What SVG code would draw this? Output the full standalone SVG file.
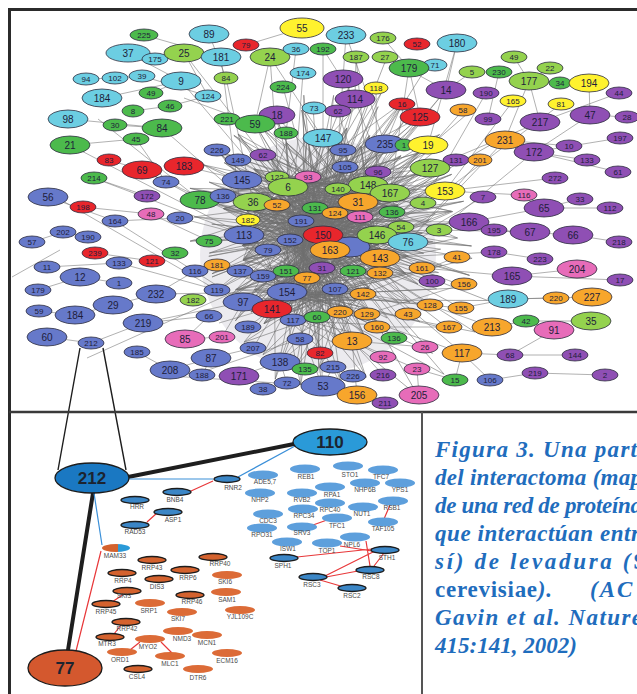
<svg xmlns="http://www.w3.org/2000/svg" xmlns:xlink="http://www.w3.org/1999/xlink" width="637" height="694" viewBox="0 0 637 694">
<style>
text{font-family:"Liberation Sans",Arial,sans-serif}
#caption text{font-family:"Liberation Serif","Times New Roman",serif;font-weight:bold;font-style:italic;font-size:23px;fill:#1f6dbd}
#nodes ellipse{stroke:#2e2e40;stroke-width:.8}
#nodes text{font-size:8px;fill:#1e1e3a;text-anchor:middle}
#nodes .B text{font-size:10px}
.c ellipse{fill:#6ccee2}
.g ellipse{fill:#4cba4c}
.l ellipse{fill:#94d24e}
.r ellipse{fill:#e8262c}
.y ellipse{fill:#fff22e}
.o ellipse{fill:#f7a62c}
.p ellipse{fill:#8f4fb4}
.s ellipse{fill:#6679ca}
.k ellipse{fill:#e76cb9}
.e{fill:none;stroke:#707070;stroke-width:.55}
.em{fill:none;stroke:#8d7a9e;stroke-width:.5}
.ib ellipse{fill:#3b86c6;stroke:#1c1c1c;stroke-width:1.3}
.il ellipse{fill:#5d9fdc}
.io ellipse{fill:#d4622e;stroke:#1c1c1c;stroke-width:1.3}
.iq ellipse{fill:#dc6b37}
#inset text{font-size:6.5px;fill:#4a4a4a;text-anchor:middle}
#inset .big text{fill:#1c2430;font-size:17px;font-weight:bold}
.red{stroke:#e8383a;stroke-width:1.2;fill:none}
.blu{stroke:#3a8fd8;stroke-width:1.2;fill:none}
.thick{stroke:#1e1e1e;stroke-width:4;fill:none;stroke-linecap:round}
</style>
<defs>
<linearGradient id="half" x1="0" x2="1" y1="0" y2="0"><stop offset="0.58" stop-color="#d4622e"/><stop offset="0.58" stop-color="#2a9ad8"/></linearGradient>
</defs>
<rect width="637" height="694" fill="#fff"/>
<ellipse cx="318" cy="255" rx="118" ry="118" fill="#ecebef"/>

<g id="connectors">
<path id="mesh" class="e" d="M244 235L323 235M244 235L408 242M244 235L380 258M244 235L390 193M244 235L287 292M244 235L335 289M244 235L323 138M244 235L368 185M290 240L377 235M290 240L380 258M290 240L288 187M290 240L368 185M290 240L363 294M290 240L352 341M290 240L385 144M323 235L288 187M323 235L242 180M323 235L390 193M323 235L287 292M323 235L243 302M323 235L280 362M323 235L430 168M377 235L242 180M377 235L253 202M377 235L287 292M377 235L243 302M377 235L272 309M377 235L323 138M408 242L288 187M408 242L253 202M408 242L272 309M408 242L335 289M408 242L300 221M330 249L242 180M330 249L368 185M330 249L390 193M330 249L272 309M330 249L385 144M330 249L255 124M380 258L242 180M380 258L300 221M380 258L243 302M380 258L323 138M288 187L368 185M288 187L390 193M288 187L287 292M288 187L335 289M288 187L363 294M242 180L358 202M242 180L300 221M242 180L335 289M242 180L368 185M368 185L253 202M368 185L287 292M368 185L272 309M390 193L253 202M390 193L300 221M390 193L287 292M358 202L300 221M358 202L287 292M358 202L243 302M253 202L335 289M253 202L363 294M300 221L287 292M300 221L363 294M300 221L352 341M287 292L363 294M287 292L430 168M243 302L335 289M243 302L363 294M272 309L335 289M272 309L363 294M335 289L352 341M363 294L280 362M352 341L272 309M280 362L335 289M430 168L288 187M430 168L300 221M445 191L242 180M445 191L300 221M445 191L287 292M323 138L300 221M323 138L287 292M323 138L358 202M385 144L244 235M385 144L300 221M385 144L287 292M420 117L288 187M420 117L300 221M420 117L323 235M255 124L323 235M255 124L358 202M255 124L300 221M217 150L358 202M217 150L377 235M217 150L380 258M469 222L300 221M469 222L323 235M469 222L244 235M422 268L244 235M422 268L288 187M422 268L300 221M430 305L323 235M430 305L287 292M461 308L287 292M461 308L300 221M317 317L288 187M317 317L368 185M317 317L323 235M200 200L323 235M200 200L358 202M200 200L300 221M209 241L323 235M209 241L377 235M217 290L323 235M217 290L358 202M217 290L300 221M377 327L244 235M377 327L288 187M322 386L323 235M322 386L300 221M322 386L287 292M462 353L323 235M462 353L287 292M343 150L323 235M343 150L287 292M345 167L244 235M345 167L287 292M402 104L323 235M402 104L300 221M355 99L287 292M355 99L323 235M446 90L323 235M338 189L244 235M338 189L287 292M423 203L244 235M423 203L287 292M439 230L244 235M439 230L243 302"/>
<use xlink:href="#mesh" href="#mesh" transform="rotate(9 318 250)" class="em"/>
<use xlink:href="#mesh" href="#mesh" transform="rotate(-8 318 250)"/>
<use xlink:href="#mesh" href="#mesh" transform="rotate(20 318 250)" class="em"/>
<use xlink:href="#mesh" href="#mesh" transform="rotate(-19 318 250)"/>
<path class="e" d="M144 35L221 57M209 34L226 78M302 28L246 45M128 53L181 81M184 53L208 96M184 53L288 187M221 57L244 235M270 57L255 124M270 57L287 292M270 57L323 138M296 49L286 133M323 49L323 138M323 49L355 99M346 35L343 79M346 35L385 144M383 38L409 68M356 57L355 99M356 57L368 185M385 57L446 90M409 68L420 117M409 68L390 193M457 43L446 90M457 43L428 145M472 72L446 90M499 72L488 119M529 81L505 140M529 81L540 122M514 57L529 81M550 68L529 81M589 83L590 115M619 93L540 122M590 115L534 152M627 117L590 115M620 138L534 152M569 146L505 140M587 160L534 152M618 172L534 152M555 178L445 191M524 195L445 191M580 199L544 208M610 208L544 208M544 208L469 222M619 242L573 235M573 235L494 230M530 232L439 230M620 280L512 276M577 269L512 276M540 259L494 252M592 297L508 299M556 298L508 299M508 299L461 308M591 321L526 321M526 321L492 327M554 330L526 321M554 330L510 355M575 355L510 355M605 375L535 373M535 373L490 380M510 355L462 353M490 380L462 353M455 380L462 353M455 380L417 369M419 395L417 369M385 403L357 395M357 395L352 341M86 79L115 78M115 78L142 76M142 76L208 96M102 98L181 81M68 119L162 128M70 145L136 139M136 139L166 182M115 125L162 128M133 111L170 106M170 106L208 96M151 93L181 81M109 160L142 170M142 170L166 182M184 166L242 180M94 178L147 196M48 197L115 221M83 207L151 214M63 232L88 237M32 242L63 232M95 253L152 261M152 261L175 253M47 267L119 263M80 277L119 283M38 290L80 277M39 311L75 315M47 337L91 343M91 343L143 323M75 315L113 305M113 305L156 294M156 294L195 271M143 323L209 316M137 352L170 370M170 370L211 358M211 358L253 348M239 376L280 362M263 389L287 383M287 383L280 362M323 386L333 367M185 339L222 337M185 339L209 316M162 128L290 240M181 81L300 221M70 145L244 235M142 170L290 240M156 294L287 292M143 323L243 302M226 78L253 202M303 73L290 240M283 87L323 235M343 79L330 249M376 88L377 235M402 104L368 185M463 110L390 193M486 93L423 203M513 101L445 191M561 104L445 191M540 122L430 168M505 140L408 242M534 152L439 230M456 160L377 235M480 160L408 242M483 197L380 258M494 252L380 258M512 276L422 268M457 257L363 294M464 284L367 314M432 281L330 249M430 305L335 289M449 327L377 327M492 327L430 305M425 347L352 341M383 357L352 341M417 369L352 341M353 376L323 386M383 375L352 341M305 369L280 362M253 348L287 292M248 327L272 309M222 337L243 302M202 375L211 358M119 263L217 290M115 221L180 218M180 218L244 235M151 214L209 241M166 182L200 200M217 150L242 180M238 160L288 187M263 155L323 235M227 119L255 124M286 133L290 240M313 108L323 235M338 111L377 235M355 99L408 242M420 117L300 221M446 90L368 185M385 144L288 187M428 145L330 249M345 167L244 235M94 178L244 235M56 197L217 290M12 277L60 250M98 119L200 200M184 98L255 124M115 221L243 302M232 294L330 249M219 323L335 289M87 358L330 249M208 370L300 339M171 376L322 386"/>
<path stroke="#1e1e1e" stroke-width="1.4" fill="none" d="M80 348L58 470M103 348L126 470"/>
<path class="thick" d="M128 477L294 444M93 493L68 650"/>
<path class="blu" d="M129 479L213 479M238 477L295 446M94 493L102 545"/>
<path class="red" d="M101 551L76 651M213 481L191 491M157 513L147 522M124 594L112 602M121 625L114 634M140 642L130 650M161 642L172 653M313 525L327 520M390 505L384 519M297 557L372 549M340 546L372 551M366 541L370 566M384 553L374 566M375 551L325 576M358 571L326 577M320 580L344 587"/>
</g>

<g id="frame" fill="none">
<path d="M8 9.5H637M9.5 8V694" stroke="#2b2b2b" stroke-width="3"/>
<path d="M9 412H637" stroke="#3a3a3a" stroke-width="2.5"/>
<path d="M422 412V694" stroke="#555" stroke-width="2"/>
</g>

<g id="nodes">
<g id="n225" class="g"><ellipse cx="144" cy="35" rx="14" ry="6"/><text x="144" y="38">225</text></g>
<g id="n89" class="c B"><ellipse cx="209" cy="34" rx="20" ry="9"/><text x="209" y="37.5">89</text></g>
<g id="n55" class="y B"><ellipse cx="302" cy="28" rx="22" ry="10"/><text x="302" y="31.5">55</text></g>
<g id="n79" class="r"><ellipse cx="246" cy="45" rx="13" ry="6"/><text x="246" y="48">79</text></g>
<g id="n37" class="c B"><ellipse cx="128" cy="53" rx="22" ry="9"/><text x="128" y="56.5">37</text></g>
<g id="n175" class="c"><ellipse cx="155" cy="59" rx="13" ry="6"/><text x="155" y="62">175</text></g>
<g id="n25" class="l B"><ellipse cx="184" cy="53" rx="20" ry="9"/><text x="184" y="56.5">25</text></g>
<g id="n181" class="c B"><ellipse cx="221" cy="57" rx="20" ry="9"/><text x="221" y="60.5">181</text></g>
<g id="n24" class="l B"><ellipse cx="270" cy="57" rx="20" ry="9"/><text x="270" y="60.5">24</text></g>
<g id="n36" class="c"><ellipse cx="296" cy="49" rx="13" ry="6"/><text x="296" y="52">36</text></g>
<g id="n192" class="g"><ellipse cx="323" cy="49" rx="13" ry="6"/><text x="323" y="52">192</text></g>
<g id="n233" class="c B"><ellipse cx="346" cy="35" rx="20" ry="9"/><text x="346" y="38.5">233</text></g>
<g id="n176" class="l"><ellipse cx="383" cy="38" rx="13" ry="6"/><text x="383" y="41">176</text></g>
<g id="n52" class="r"><ellipse cx="417" cy="44" rx="13" ry="6"/><text x="417" y="47">52</text></g>
<g id="n180" class="c B"><ellipse cx="457" cy="43" rx="20" ry="9"/><text x="457" y="46.5">180</text></g>
<g id="n187" class="l"><ellipse cx="356" cy="57" rx="13" ry="6"/><text x="356" y="60">187</text></g>
<g id="n27" class="l"><ellipse cx="385" cy="57" rx="13" ry="6"/><text x="385" y="60">27</text></g>
<g id="n71" class="c"><ellipse cx="435" cy="65" rx="12" ry="6"/><text x="435" y="68">71</text></g>
<g id="n179" class="g B"><ellipse cx="409" cy="68" rx="20" ry="9"/><text x="409" y="71.5">179</text></g>
<g id="n49" class="l"><ellipse cx="514" cy="57" rx="13" ry="6"/><text x="514" y="60">49</text></g>
<g id="n5" class="l"><ellipse cx="472" cy="72" rx="13" ry="6"/><text x="472" y="75">5</text></g>
<g id="n230" class="g"><ellipse cx="499" cy="72" rx="13" ry="6"/><text x="499" y="75">230</text></g>
<g id="n22" class="l"><ellipse cx="550" cy="68" rx="13" ry="6"/><text x="550" y="71">22</text></g>
<g id="n177" class="l B"><ellipse cx="529" cy="81" rx="20" ry="9"/><text x="529" y="84.5">177</text></g>
<g id="n34" class="g"><ellipse cx="560" cy="83" rx="11" ry="6"/><text x="560" y="86">34</text></g>
<g id="n194" class="y B"><ellipse cx="589" cy="83" rx="20" ry="9"/><text x="589" y="86.5">194</text></g>
<g id="n44" class="p"><ellipse cx="619" cy="93" rx="13" ry="6"/><text x="619" y="96">44</text></g>
<g id="n94" class="c"><ellipse cx="86" cy="79" rx="13" ry="6"/><text x="86" y="82">94</text></g>
<g id="n102" class="c"><ellipse cx="115" cy="78" rx="13" ry="6"/><text x="115" y="81">102</text></g>
<g id="n39" class="c"><ellipse cx="142" cy="76" rx="13" ry="6"/><text x="142" y="79">39</text></g>
<g id="n9" class="c B"><ellipse cx="181" cy="81" rx="20" ry="9"/><text x="181" y="84.5">9</text></g>
<g id="n84" class="l"><ellipse cx="226" cy="78" rx="12" ry="6"/><text x="226" y="81">84</text></g>
<g id="n124" class="c"><ellipse cx="208" cy="96" rx="13" ry="6"/><text x="208" y="99">124</text></g>
<g id="n174" class="c"><ellipse cx="303" cy="73" rx="13" ry="6"/><text x="303" y="76">174</text></g>
<g id="n224" class="g"><ellipse cx="283" cy="87" rx="13" ry="6"/><text x="283" y="90">224</text></g>
<g id="n120" class="p B"><ellipse cx="343" cy="79" rx="20" ry="9"/><text x="343" y="82.5">120</text></g>
<g id="n118" class="y"><ellipse cx="376" cy="88" rx="12" ry="6"/><text x="376" y="91">118</text></g>
<g id="n114" class="p B"><ellipse cx="355" cy="99" rx="20" ry="9"/><text x="355" y="102.5">114</text></g>
<g id="n14" class="p B"><ellipse cx="446" cy="90" rx="20" ry="9"/><text x="446" y="93.5">14</text></g>
<g id="n190" class="p"><ellipse cx="486" cy="93" rx="13" ry="6"/><text x="486" y="96">190</text></g>
<g id="n165" class="y"><ellipse cx="513" cy="101" rx="13" ry="6"/><text x="513" y="104">165</text></g>
<g id="n81" class="y"><ellipse cx="561" cy="104" rx="13" ry="6"/><text x="561" y="107">81</text></g>
<g id="n47" class="p B"><ellipse cx="590" cy="115" rx="20" ry="9"/><text x="590" y="118.5">47</text></g>
<g id="n28" class="p"><ellipse cx="627" cy="117" rx="12" ry="6"/><text x="627" y="120">28</text></g>
<g id="n184" class="c B"><ellipse cx="102" cy="98" rx="20" ry="9"/><text x="102" y="101.5">184</text></g>
<g id="n49b" class="g"><ellipse cx="151" cy="93" rx="12" ry="6"/><text x="151" y="96">49</text></g>
<g id="n46" class="g"><ellipse cx="170" cy="106" rx="12" ry="6"/><text x="170" y="109">46</text></g>
<g id="n8" class="g"><ellipse cx="133" cy="111" rx="11" ry="6"/><text x="133" y="114">8</text></g>
<g id="n98" class="c B"><ellipse cx="68" cy="119" rx="20" ry="9"/><text x="68" y="122.5">98</text></g>
<g id="n30" class="g"><ellipse cx="115" cy="125" rx="12" ry="6"/><text x="115" y="128">30</text></g>
<g id="n84b" class="g B"><ellipse cx="162" cy="128" rx="20" ry="9"/><text x="162" y="131.5">84</text></g>
<g id="n221" class="g"><ellipse cx="227" cy="119" rx="13" ry="6"/><text x="227" y="122">221</text></g>
<g id="n18" class="p B"><ellipse cx="277" cy="115" rx="18" ry="9"/><text x="277" y="118.5">18</text></g>
<g id="n59" class="g B"><ellipse cx="255" cy="124" rx="20" ry="9"/><text x="255" y="127.5">59</text></g>
<g id="n188" class="g"><ellipse cx="286" cy="133" rx="12" ry="6"/><text x="286" y="136">188</text></g>
<g id="n73" class="c"><ellipse cx="314" cy="108" rx="12" ry="6"/><text x="314" y="111">73</text></g>
<g id="n62" class="p"><ellipse cx="338" cy="111" rx="13" ry="6"/><text x="338" y="114">62</text></g>
<g id="n16" class="r"><ellipse cx="402" cy="104" rx="13" ry="6"/><text x="402" y="107">16</text></g>
<g id="n125" class="r B"><ellipse cx="420" cy="117" rx="20" ry="9"/><text x="420" y="120.5">125</text></g>
<g id="n58" class="o"><ellipse cx="463" cy="110" rx="13" ry="6"/><text x="463" y="113">58</text></g>
<g id="n99" class="p"><ellipse cx="488" cy="119" rx="13" ry="6"/><text x="488" y="122">99</text></g>
<g id="n217" class="p B"><ellipse cx="540" cy="122" rx="20" ry="9"/><text x="540" y="125.5">217</text></g>
<g id="n197" class="p"><ellipse cx="620" cy="138" rx="13" ry="6"/><text x="620" y="141">197</text></g>
<g id="n45" class="g"><ellipse cx="136" cy="139" rx="13" ry="6"/><text x="136" y="142">45</text></g>
<g id="n21" class="g B"><ellipse cx="70" cy="145" rx="20" ry="9"/><text x="70" y="148.5">21</text></g>
<g id="n226" class="s"><ellipse cx="217" cy="150" rx="13" ry="6"/><text x="217" y="153">226</text></g>
<g id="n149" class="s"><ellipse cx="238" cy="160" rx="13" ry="6"/><text x="238" y="163">149</text></g>
<g id="n62b" class="p"><ellipse cx="263" cy="155" rx="13" ry="6"/><text x="263" y="158">62</text></g>
<g id="n147" class="c B"><ellipse cx="323" cy="138" rx="20" ry="9"/><text x="323" y="141.5">147</text></g>
<g id="n95" class="s"><ellipse cx="343" cy="150" rx="13" ry="6"/><text x="343" y="153">95</text></g>
<g id="n235" class="s B"><ellipse cx="385" cy="144" rx="20" ry="9"/><text x="385" y="147.5">235</text></g>
<g id="n7g" class="g"><ellipse cx="404" cy="145" rx="9" ry="6"/><text x="404" y="148">1</text></g>
<g id="n19" class="y B"><ellipse cx="428" cy="145" rx="20" ry="9"/><text x="428" y="148.5">19</text></g>
<g id="n231" class="o B"><ellipse cx="505" cy="140" rx="20" ry="9"/><text x="505" y="143.5">231</text></g>
<g id="n172" class="p B"><ellipse cx="534" cy="152" rx="20" ry="9"/><text x="534" y="155.5">172</text></g>
<g id="n10" class="p"><ellipse cx="569" cy="146" rx="13" ry="6"/><text x="569" y="149">10</text></g>
<g id="n83" class="r"><ellipse cx="109" cy="160" rx="12" ry="6"/><text x="109" y="163">83</text></g>
<g id="n69" class="r B"><ellipse cx="142" cy="170" rx="20" ry="9"/><text x="142" y="173.5">69</text></g>
<g id="n183" class="r B"><ellipse cx="184" cy="166" rx="20" ry="9"/><text x="184" y="169.5">183</text></g>
<g id="n105" class="s"><ellipse cx="345" cy="167" rx="13" ry="6"/><text x="345" y="170">105</text></g>
<g id="n131" class="p"><ellipse cx="456" cy="160" rx="13" ry="6"/><text x="456" y="163">131</text></g>
<g id="n201" class="o"><ellipse cx="480" cy="160" rx="12" ry="6"/><text x="480" y="163">201</text></g>
<g id="n127" class="l B"><ellipse cx="430" cy="168" rx="20" ry="9"/><text x="430" y="171.5">127</text></g>
<g id="n133" class="p"><ellipse cx="587" cy="160" rx="13" ry="6"/><text x="587" y="163">133</text></g>
<g id="n61" class="p"><ellipse cx="618" cy="172" rx="13" ry="6"/><text x="618" y="175">61</text></g>
<g id="n214" class="g"><ellipse cx="94" cy="178" rx="13" ry="6"/><text x="94" y="181">214</text></g>
<g id="n74" class="s"><ellipse cx="166" cy="182" rx="13" ry="6"/><text x="166" y="185">74</text></g>
<g id="n145" class="s B"><ellipse cx="242" cy="180" rx="20" ry="9"/><text x="242" y="183.5">145</text></g>
<g id="n122" class="l"><ellipse cx="277" cy="177" rx="12" ry="6"/><text x="277" y="180">122</text></g>
<g id="n93" class="k"><ellipse cx="308" cy="177" rx="13" ry="6"/><text x="308" y="180">93</text></g>
<g id="n6" class="l B"><ellipse cx="288" cy="187" rx="20" ry="9"/><text x="288" y="190.5">6</text></g>
<g id="n96" class="p"><ellipse cx="378" cy="172" rx="13" ry="6"/><text x="378" y="175">96</text></g>
<g id="n272" class="p"><ellipse cx="555" cy="178" rx="13" ry="6"/><text x="555" y="181">272</text></g>
<g id="n148" class="l B"><ellipse cx="368" cy="185" rx="20" ry="9"/><text x="368" y="188.5">148</text></g>
<g id="n140" class="l"><ellipse cx="338" cy="189" rx="13" ry="6"/><text x="338" y="192">140</text></g>
<g id="n167" class="l B"><ellipse cx="390" cy="193" rx="20" ry="9"/><text x="390" y="196.5">167</text></g>
<g id="n153" class="y B"><ellipse cx="445" cy="191" rx="20" ry="9"/><text x="445" y="194.5">153</text></g>
<g id="n7" class="p"><ellipse cx="483" cy="197" rx="13" ry="6"/><text x="483" y="200">7</text></g>
<g id="n116" class="k"><ellipse cx="524" cy="195" rx="13" ry="6"/><text x="524" y="198">116</text></g>
<g id="n33" class="p"><ellipse cx="580" cy="199" rx="13" ry="6"/><text x="580" y="202">33</text></g>
<g id="n56" class="s B"><ellipse cx="48" cy="197" rx="20" ry="9"/><text x="48" y="200.5">56</text></g>
<g id="n172b" class="p"><ellipse cx="147" cy="196" rx="13" ry="6"/><text x="147" y="199">172</text></g>
<g id="n78" class="g B"><ellipse cx="200" cy="200" rx="20" ry="9"/><text x="200" y="203.5">78</text></g>
<g id="n136" class="s"><ellipse cx="223" cy="196" rx="13" ry="7"/><text x="223" y="199">136</text></g>
<g id="n36b" class="l B"><ellipse cx="253" cy="202" rx="20" ry="9"/><text x="253" y="205.5">36</text></g>
<g id="n52b" class="o"><ellipse cx="277" cy="205" rx="13" ry="6"/><text x="277" y="208">52</text></g>
<g id="n31" class="o B"><ellipse cx="358" cy="202" rx="20" ry="9"/><text x="358" y="205.5">31</text></g>
<g id="n4" class="l"><ellipse cx="423" cy="203" rx="13" ry="6"/><text x="423" y="206">4</text></g>
<g id="n65" class="p B"><ellipse cx="544" cy="208" rx="20" ry="9"/><text x="544" y="211.5">65</text></g>
<g id="n112" class="p"><ellipse cx="610" cy="208" rx="13" ry="6"/><text x="610" y="211">112</text></g>
<g id="n198" class="r"><ellipse cx="83" cy="207" rx="13" ry="6"/><text x="83" y="210">198</text></g>
<g id="n131b" class="g"><ellipse cx="315" cy="208" rx="13" ry="6"/><text x="315" y="211">131</text></g>
<g id="n124b" class="o"><ellipse cx="335" cy="213" rx="13" ry="6"/><text x="335" y="216">124</text></g>
<g id="n111" class="k"><ellipse cx="360" cy="217" rx="13" ry="6"/><text x="360" y="220">111</text></g>
<g id="n136b" class="g"><ellipse cx="392" cy="212" rx="13" ry="6"/><text x="392" y="215">136</text></g>
<g id="n48" class="k"><ellipse cx="151" cy="214" rx="13" ry="6"/><text x="151" y="217">48</text></g>
<g id="n20" class="s"><ellipse cx="180" cy="218" rx="13" ry="6"/><text x="180" y="221">20</text></g>
<g id="n164" class="s"><ellipse cx="115" cy="221" rx="13" ry="6"/><text x="115" y="224">164</text></g>
<g id="n182" class="y"><ellipse cx="248" cy="220" rx="12" ry="6"/><text x="248" y="223">182</text></g>
<g id="n191" class="s"><ellipse cx="301" cy="221" rx="13" ry="6"/><text x="301" y="224">191</text></g>
<g id="n166" class="p B"><ellipse cx="469" cy="222" rx="20" ry="9"/><text x="469" y="225.5">166</text></g>
<g id="n195" class="p"><ellipse cx="494" cy="230" rx="13" ry="6"/><text x="494" y="233">195</text></g>
<g id="n67" class="p B"><ellipse cx="530" cy="232" rx="20" ry="9"/><text x="530" y="235.5">67</text></g>
<g id="n66" class="p B"><ellipse cx="573" cy="235" rx="20" ry="9"/><text x="573" y="238.5">66</text></g>
<g id="n218" class="p"><ellipse cx="619" cy="242" rx="13" ry="6"/><text x="619" y="245">218</text></g>
<g id="n54" class="l"><ellipse cx="401" cy="227" rx="13" ry="6"/><text x="401" y="230">54</text></g>
<g id="n3" class="l"><ellipse cx="439" cy="230" rx="13" ry="6"/><text x="439" y="233">3</text></g>
<g id="n202" class="s"><ellipse cx="63" cy="232" rx="13" ry="6"/><text x="63" y="235">202</text></g>
<g id="n190b" class="s"><ellipse cx="88" cy="237" rx="13" ry="6"/><text x="88" y="240">190</text></g>
<g id="n57" class="s"><ellipse cx="32" cy="242" rx="13" ry="6"/><text x="32" y="245">57</text></g>
<g id="n113" class="s B"><ellipse cx="244" cy="235" rx="20" ry="9"/><text x="244" y="238.5">113</text></g>
<g id="n75" class="g"><ellipse cx="209" cy="241" rx="13" ry="6"/><text x="209" y="244">75</text></g>
<g id="n152" class="s"><ellipse cx="290" cy="240" rx="13" ry="6"/><text x="290" y="243">152</text></g>
<g id="nhid" class="s"><ellipse cx="350" cy="247" rx="20" ry="10"/></g>
<g id="n150" class="r B"><ellipse cx="323" cy="235" rx="20" ry="9"/><text x="323" y="238.5">150</text></g>
<g id="n146" class="l B"><ellipse cx="377" cy="235" rx="20" ry="9"/><text x="377" y="238.5">146</text></g>
<g id="n76" class="c B"><ellipse cx="408" cy="242" rx="20" ry="9"/><text x="408" y="245.5">76</text></g>
<g id="n41" class="o"><ellipse cx="457" cy="257" rx="13" ry="6"/><text x="457" y="260">41</text></g>
<g id="n178" class="p"><ellipse cx="494" cy="252" rx="13" ry="6"/><text x="494" y="255">178</text></g>
<g id="n223" class="p"><ellipse cx="540" cy="259" rx="13" ry="6"/><text x="540" y="262">223</text></g>
<g id="n204" class="k B"><ellipse cx="577" cy="269" rx="20" ry="9"/><text x="577" y="272.5">204</text></g>
<g id="n239" class="r"><ellipse cx="95" cy="253" rx="13" ry="6"/><text x="95" y="256">239</text></g>
<g id="n32" class="g"><ellipse cx="175" cy="253" rx="13" ry="6"/><text x="175" y="256">32</text></g>
<g id="n79b" class="s"><ellipse cx="268" cy="250" rx="13" ry="6"/><text x="268" y="253">79</text></g>
<g id="n163" class="o B"><ellipse cx="330" cy="250" rx="20" ry="9"/><text x="330" y="253.5">163</text></g>
<g id="n143" class="o B"><ellipse cx="380" cy="258" rx="20" ry="9"/><text x="380" y="261.5">143</text></g>
<g id="n161" class="o"><ellipse cx="422" cy="268" rx="13" ry="6"/><text x="422" y="271">161</text></g>
<g id="n165b" class="p B"><ellipse cx="512" cy="276" rx="20" ry="9"/><text x="512" y="279.5">165</text></g>
<g id="n17" class="p"><ellipse cx="620" cy="280" rx="13" ry="6"/><text x="620" y="283">17</text></g>
<g id="n11" class="s"><ellipse cx="47" cy="267" rx="13" ry="6"/><text x="47" y="270">11</text></g>
<g id="n133b" class="s"><ellipse cx="119" cy="263" rx="13" ry="6"/><text x="119" y="266">133</text></g>
<g id="n121" class="r"><ellipse cx="152" cy="261" rx="13" ry="6"/><text x="152" y="264">121</text></g>
<g id="n181b" class="o"><ellipse cx="217" cy="265" rx="13" ry="6"/><text x="217" y="268">181</text></g>
<g id="n116b" class="s"><ellipse cx="195" cy="271" rx="13" ry="6"/><text x="195" y="274">116</text></g>
<g id="n137" class="s"><ellipse cx="240" cy="271" rx="13" ry="6"/><text x="240" y="274">137</text></g>
<g id="n159" class="s"><ellipse cx="263" cy="276" rx="13" ry="6"/><text x="263" y="279">159</text></g>
<g id="n151" class="g"><ellipse cx="286" cy="271" rx="13" ry="6"/><text x="286" y="274">151</text></g>
<g id="n31b" class="p"><ellipse cx="322" cy="268" rx="13" ry="6"/><text x="322" y="271">31</text></g>
<g id="n121b" class="g"><ellipse cx="353" cy="271" rx="13" ry="6"/><text x="353" y="274">121</text></g>
<g id="n132" class="o"><ellipse cx="380" cy="273" rx="13" ry="6"/><text x="380" y="276">132</text></g>
<g id="n77" class="o"><ellipse cx="307" cy="278" rx="13" ry="6"/><text x="307" y="281">77</text></g>
<g id="n100" class="p"><ellipse cx="432" cy="281" rx="13" ry="6"/><text x="432" y="284">100</text></g>
<g id="n156" class="o"><ellipse cx="464" cy="284" rx="13" ry="6"/><text x="464" y="287">156</text></g>
<g id="n12" class="s B"><ellipse cx="80" cy="277" rx="20" ry="9"/><text x="80" y="280.5">12</text></g>
<g id="n1" class="s"><ellipse cx="119" cy="283" rx="13" ry="6"/><text x="119" y="286">1</text></g>
<g id="n179b" class="s"><ellipse cx="38" cy="290" rx="13" ry="6"/><text x="38" y="293">179</text></g>
<g id="n232" class="s B"><ellipse cx="156" cy="294" rx="20" ry="9"/><text x="156" y="297.5">232</text></g>
<g id="n119" class="s"><ellipse cx="217" cy="290" rx="13" ry="6"/><text x="217" y="293">119</text></g>
<g id="n154" class="s B"><ellipse cx="287" cy="292" rx="20" ry="9"/><text x="287" y="295.5">154</text></g>
<g id="n107" class="s"><ellipse cx="335" cy="289" rx="13" ry="6"/><text x="335" y="292">107</text></g>
<g id="n142" class="o"><ellipse cx="363" cy="294" rx="13" ry="6"/><text x="363" y="297">142</text></g>
<g id="n189" class="c B"><ellipse cx="508" cy="299" rx="20" ry="9"/><text x="508" y="302.5">189</text></g>
<g id="n220" class="o"><ellipse cx="556" cy="298" rx="13" ry="6"/><text x="556" y="301">220</text></g>
<g id="n227" class="o B"><ellipse cx="592" cy="297" rx="20" ry="9"/><text x="592" y="300.5">227</text></g>
<g id="n182b" class="l"><ellipse cx="193" cy="300" rx="13" ry="6"/><text x="193" y="303">182</text></g>
<g id="n29" class="s B"><ellipse cx="113" cy="305" rx="20" ry="9"/><text x="113" y="308.5">29</text></g>
<g id="n97" class="s B"><ellipse cx="243" cy="302" rx="20" ry="9"/><text x="243" y="305.5">97</text></g>
<g id="n141" class="r B"><ellipse cx="272" cy="309" rx="20" ry="9"/><text x="272" y="312.5">141</text></g>
<g id="n128" class="o"><ellipse cx="430" cy="305" rx="13" ry="6"/><text x="430" y="308">128</text></g>
<g id="n155" class="o"><ellipse cx="461" cy="308" rx="13" ry="6"/><text x="461" y="311">155</text></g>
<g id="n220b" class="o"><ellipse cx="340" cy="312" rx="13" ry="6"/><text x="340" y="315">220</text></g>
<g id="n129" class="o"><ellipse cx="367" cy="314" rx="13" ry="6"/><text x="367" y="317">129</text></g>
<g id="n43" class="o"><ellipse cx="408" cy="314" rx="13" ry="6"/><text x="408" y="317">43</text></g>
<g id="n59b" class="s"><ellipse cx="39" cy="311" rx="13" ry="6"/><text x="39" y="314">59</text></g>
<g id="n184b" class="s B"><ellipse cx="75" cy="315" rx="20" ry="9"/><text x="75" y="318.5">184</text></g>
<g id="n66b" class="s"><ellipse cx="209" cy="316" rx="13" ry="6"/><text x="209" y="319">66</text></g>
<g id="n117" class="s"><ellipse cx="293" cy="320" rx="13" ry="6"/><text x="293" y="323">117</text></g>
<g id="n60" class="g"><ellipse cx="317" cy="317" rx="13" ry="6"/><text x="317" y="320">60</text></g>
<g id="n42" class="g"><ellipse cx="526" cy="321" rx="13" ry="6"/><text x="526" y="324">42</text></g>
<g id="n35" class="l B"><ellipse cx="591" cy="321" rx="20" ry="9"/><text x="591" y="324.5">35</text></g>
<g id="n219" class="s B"><ellipse cx="143" cy="323" rx="20" ry="9"/><text x="143" y="326.5">219</text></g>
<g id="n189b" class="s"><ellipse cx="248" cy="327" rx="13" ry="6"/><text x="248" y="330">189</text></g>
<g id="n160" class="o"><ellipse cx="377" cy="327" rx="13" ry="6"/><text x="377" y="330">160</text></g>
<g id="n167b" class="o"><ellipse cx="449" cy="327" rx="13" ry="6"/><text x="449" y="330">167</text></g>
<g id="n213" class="o B"><ellipse cx="492" cy="327" rx="20" ry="9"/><text x="492" y="330.5">213</text></g>
<g id="n91" class="k B"><ellipse cx="554" cy="330" rx="20" ry="9"/><text x="554" y="333.5">91</text></g>
<g id="n60b" class="s B"><ellipse cx="47" cy="337" rx="20" ry="9"/><text x="47" y="340.5">60</text></g>
<g id="n212" class="s"><ellipse cx="91" cy="343" rx="13" ry="6"/><text x="91" y="346">212</text></g>
<g id="n85" class="k B"><ellipse cx="185" cy="339" rx="20" ry="9"/><text x="185" y="342.5">85</text></g>
<g id="n201b" class="k"><ellipse cx="222" cy="337" rx="13" ry="6"/><text x="222" y="340">201</text></g>
<g id="n58b" class="s"><ellipse cx="300" cy="339" rx="13" ry="6"/><text x="300" y="342">58</text></g>
<g id="n13" class="o B"><ellipse cx="352" cy="341" rx="20" ry="9"/><text x="352" y="344.5">13</text></g>
<g id="n136c" class="g"><ellipse cx="394" cy="338" rx="13" ry="6"/><text x="394" y="341">136</text></g>
<g id="n26" class="k"><ellipse cx="425" cy="347" rx="13" ry="6"/><text x="425" y="350">26</text></g>
<g id="n207" class="s"><ellipse cx="253" cy="348" rx="13" ry="6"/><text x="253" y="351">207</text></g>
<g id="n185" class="s"><ellipse cx="137" cy="352" rx="13" ry="6"/><text x="137" y="355">185</text></g>
<g id="n82" class="r"><ellipse cx="320" cy="353" rx="13" ry="6"/><text x="320" y="356">82</text></g>
<g id="n92" class="k"><ellipse cx="383" cy="357" rx="13" ry="6"/><text x="383" y="360">92</text></g>
<g id="n117b" class="o B"><ellipse cx="462" cy="353" rx="20" ry="9"/><text x="462" y="356.5">117</text></g>
<g id="n68" class="p"><ellipse cx="510" cy="355" rx="13" ry="6"/><text x="510" y="358">68</text></g>
<g id="n144" class="p"><ellipse cx="575" cy="355" rx="13" ry="6"/><text x="575" y="358">144</text></g>
<g id="n87" class="s B"><ellipse cx="211" cy="358" rx="20" ry="9"/><text x="211" y="361.5">87</text></g>
<g id="n138" class="s B"><ellipse cx="280" cy="362" rx="20" ry="9"/><text x="280" y="365.5">138</text></g>
<g id="n208" class="s B"><ellipse cx="170" cy="370" rx="20" ry="9"/><text x="170" y="373.5">208</text></g>
<g id="n188b" class="s"><ellipse cx="202" cy="375" rx="13" ry="6"/><text x="202" y="378">188</text></g>
<g id="n171" class="p B"><ellipse cx="239" cy="376" rx="20" ry="9"/><text x="239" y="379.5">171</text></g>
<g id="n135" class="g"><ellipse cx="305" cy="369" rx="13" ry="6"/><text x="305" y="372">135</text></g>
<g id="n215" class="s"><ellipse cx="333" cy="367" rx="13" ry="6"/><text x="333" y="370">215</text></g>
<g id="n23" class="k"><ellipse cx="417" cy="369" rx="13" ry="6"/><text x="417" y="372">23</text></g>
<g id="n219b" class="p"><ellipse cx="535" cy="373" rx="13" ry="6"/><text x="535" y="376">219</text></g>
<g id="n2" class="p"><ellipse cx="605" cy="375" rx="13" ry="6"/><text x="605" y="378">2</text></g>
<g id="n226b" class="s"><ellipse cx="353" cy="376" rx="13" ry="6"/><text x="353" y="379">226</text></g>
<g id="n216" class="p"><ellipse cx="383" cy="375" rx="13" ry="6"/><text x="383" y="378">216</text></g>
<g id="n15" class="g"><ellipse cx="455" cy="380" rx="13" ry="6"/><text x="455" y="383">15</text></g>
<g id="n106" class="s"><ellipse cx="490" cy="380" rx="13" ry="6"/><text x="490" y="383">106</text></g>
<g id="n72" class="s"><ellipse cx="287" cy="383" rx="13" ry="6"/><text x="287" y="386">72</text></g>
<g id="n38" class="s"><ellipse cx="263" cy="389" rx="13" ry="6"/><text x="263" y="392">38</text></g>
<g id="n53" class="s B"><ellipse cx="323" cy="386" rx="22" ry="10"/><text x="323" y="389.5">53</text></g>
<g id="n156b" class="o B"><ellipse cx="357" cy="395" rx="20" ry="9"/><text x="357" y="398.5">156</text></g>
<g id="n205" class="k B"><ellipse cx="419" cy="395" rx="20" ry="9"/><text x="419" y="398.5">205</text></g>
<g id="n211" class="p"><ellipse cx="385" cy="403" rx="13" ry="6"/><text x="385" y="406">211</text></g>
</g>

<g id="inset">
<g id="i212" class="big"><ellipse cx="92" cy="478" rx="37" ry="15" fill="#1a78c2" stroke="#1c1c1c" stroke-width="1.3"/><text x="92" y="484">212</text></g>
<g id="i110" class="big"><ellipse cx="330" cy="442" rx="37" ry="13" fill="#2a9ad8" stroke="#1c1c1c" stroke-width="1.3"/><text x="330" y="448">110</text></g>
<g id="i77" class="big"><ellipse cx="65" cy="668" rx="37" ry="18" fill="#d4582e" stroke="#1c1c1c" stroke-width="1.3"/><text x="65" y="674">77</text></g>
<g id="iRNR2" class="ib"><ellipse cx="227" cy="479" rx="13" ry="3.5"/><text x="233" y="490">RNR2</text></g>
<g id="iBNB4" class="ib"><ellipse cx="177" cy="492" rx="14" ry="3.5"/><text x="175" y="502">BNB4</text></g>
<g id="iHRR" class="ib"><ellipse cx="135" cy="500" rx="14" ry="3.5"/><text x="137" y="509">HRR</text></g>
<g id="iASP1" class="ib"><ellipse cx="168" cy="512" rx="14" ry="3.5"/><text x="173" y="522">ASP1</text></g>
<g id="iRAD53" class="ib"><ellipse cx="135" cy="525" rx="14" ry="3.5"/><text x="135" y="534">RAD53</text></g>
<g id="iMAM33"><ellipse cx="116" cy="548" rx="14" ry="4" fill="url(#half)"/><text x="115" y="558">MAM33</text></g>
<g id="iADE" class="il"><ellipse cx="263" cy="475" rx="15" ry="4.5"/><text x="265" y="484">ADE5,7</text></g>
<g id="iREB1" class="il"><ellipse cx="305" cy="469" rx="15" ry="4.5"/><text x="306" y="479">REB1</text></g>
<g id="iSTO1" class="il"><ellipse cx="348" cy="466" rx="15" ry="4.5"/><text x="350" y="477">STO1</text></g>
<g id="iTFC7" class="il"><ellipse cx="383" cy="470" rx="15" ry="4.5"/><text x="381" y="479">TFC7</text></g>
<g id="iNHP6B" class="il"><ellipse cx="365" cy="483" rx="15" ry="4.5"/><text x="365" y="492">NHP6B</text></g>
<g id="iYPS1" class="il"><ellipse cx="400" cy="483" rx="15" ry="4.5"/><text x="400" y="492">YPS1</text></g>
<g id="iNHP2" class="il"><ellipse cx="260" cy="493" rx="15" ry="4.5"/><text x="260" y="502">NHP2</text></g>
<g id="iRVB2" class="il"><ellipse cx="302" cy="493" rx="15" ry="4.5"/><text x="302" y="502">RVB2</text></g>
<g id="iRPA1" class="il"><ellipse cx="330" cy="487" rx="15" ry="4.5"/><text x="332" y="497">RPA1</text></g>
<g id="iRPC40" class="il"><ellipse cx="330" cy="503" rx="15" ry="4.5"/><text x="330" y="512">RPC40</text></g>
<g id="iRPC34" class="il"><ellipse cx="303" cy="509" rx="15" ry="4.5"/><text x="304" y="518">RPC34</text></g>
<g id="iNUT1" class="il"><ellipse cx="363" cy="507" rx="15" ry="4.5"/><text x="362" y="516">NUT1</text></g>
<g id="iRSB1" class="il"><ellipse cx="393" cy="501" rx="15" ry="4.5"/><text x="392" y="510">RSB1</text></g>
<g id="iTFC1" class="il"><ellipse cx="337" cy="518" rx="15" ry="4.5"/><text x="337" y="528">TFC1</text></g>
<g id="iTAF" class="il"><ellipse cx="383" cy="522" rx="15" ry="4.5"/><text x="383" y="531">TAF105</text></g>
<g id="iCDC3" class="il"><ellipse cx="268" cy="514" rx="15" ry="4.5"/><text x="268" y="523">CDC3</text></g>
<g id="iRPO31" class="il"><ellipse cx="262" cy="528" rx="15" ry="4.5"/><text x="262" y="537">RPO31</text></g>
<g id="iSRV3" class="il"><ellipse cx="302" cy="527" rx="15" ry="4.5"/><text x="302" y="535">SRV3</text></g>
<g id="iNPL6" class="il"><ellipse cx="355" cy="537" rx="15" ry="4.5"/><text x="352" y="547">NPL6</text></g>
<g id="iISW1" class="il"><ellipse cx="287" cy="542" rx="15" ry="4.5"/><text x="288" y="551">ISW1</text></g>
<g id="iTOP1" class="il"><ellipse cx="327" cy="543" rx="15" ry="4.5"/><text x="327" y="553">TOP1</text></g>
<g id="iSPH1" class="ib"><ellipse cx="284" cy="558" rx="14" ry="3.5"/><text x="283" y="568">SPH1</text></g>
<g id="iSTH1" class="ib"><ellipse cx="385" cy="550" rx="14" ry="3.5"/><text x="387" y="560">STH1</text></g>
<g id="iRSC8" class="ib"><ellipse cx="370" cy="570" rx="14" ry="3.5"/><text x="371" y="579">RSC8</text></g>
<g id="iRSC3" class="ib"><ellipse cx="313" cy="577" rx="14" ry="3.5"/><text x="312" y="587">RSC3</text></g>
<g id="iRSC2" class="ib"><ellipse cx="352" cy="588" rx="14" ry="3.5"/><text x="352" y="598">RSC2</text></g>
<g id="iRRP43" class="io"><ellipse cx="152" cy="560" rx="14" ry="3.5"/><text x="152" y="570">RRP43</text></g>
<g id="iRRP40" class="io"><ellipse cx="213" cy="557" rx="14" ry="3.5"/><text x="220" y="566">RRP40</text></g>
<g id="iRRP6" class="io"><ellipse cx="185" cy="570" rx="14" ry="3.5"/><text x="188" y="580">RRP6</text></g>
<g id="iRRP4" class="io"><ellipse cx="122" cy="573" rx="14" ry="3.5"/><text x="123" y="583">RRP4</text></g>
<g id="iDIS3" class="io"><ellipse cx="159" cy="579" rx="14" ry="3.5"/><text x="157" y="589">DIS3</text></g>
<g id="iSKI3" class="io"><ellipse cx="127" cy="591" rx="14" ry="3.5"/><text x="124" y="598">SKI3</text></g>
<g id="iRRP46" class="io"><ellipse cx="190" cy="595" rx="14" ry="3.5"/><text x="192" y="604">RRP46</text></g>
<g id="iRRP45" class="io"><ellipse cx="106" cy="604" rx="14" ry="3.5"/><text x="106" y="614">RRP45</text></g>
<g id="iRRP42" class="io"><ellipse cx="126" cy="622" rx="14" ry="3.5"/><text x="127" y="631">RRP42</text></g>
<g id="iMTR3" class="io"><ellipse cx="110" cy="637" rx="14" ry="3.5"/><text x="107" y="646">MTR3</text></g>
<g id="iCSL4" class="io"><ellipse cx="138" cy="669" rx="14" ry="3.5"/><text x="137" y="679">CSL4</text></g>
<g id="iSKI6" class="iq"><ellipse cx="227" cy="575" rx="15" ry="4"/><text x="225" y="584">SKI6</text></g>
<g id="iSAM1" class="iq"><ellipse cx="226" cy="592" rx="15" ry="4"/><text x="227" y="602">SAM1</text></g>
<g id="iSRP1" class="iq"><ellipse cx="150" cy="603" rx="15" ry="4"/><text x="149" y="613">SRP1</text></g>
<g id="iSKI7" class="iq"><ellipse cx="182" cy="612" rx="15" ry="4"/><text x="178" y="621">SKI7</text></g>
<g id="iYJL" class="iq"><ellipse cx="240" cy="610" rx="15" ry="4"/><text x="240" y="619">YJL109C</text></g>
<g id="iNMD3" class="iq"><ellipse cx="178" cy="631" rx="15" ry="4"/><text x="182" y="641">NMD3</text></g>
<g id="iMYO2" class="iq"><ellipse cx="150" cy="639" rx="15" ry="4"/><text x="148" y="649">MYO2</text></g>
<g id="iMCN1" class="iq"><ellipse cx="207" cy="635" rx="15" ry="4"/><text x="207" y="645">MCN1</text></g>
<g id="iORD1" class="iq"><ellipse cx="122" cy="652" rx="15" ry="4"/><text x="120" y="662">ORD1</text></g>
<g id="iMLC1" class="iq"><ellipse cx="170" cy="656" rx="15" ry="4"/><text x="170" y="666">MLC1</text></g>
<g id="iECM16" class="iq"><ellipse cx="227" cy="653" rx="15" ry="4"/><text x="227" y="663">ECM16</text></g>
<g id="iDTR6" class="iq"><ellipse cx="198" cy="669" rx="15" ry="4"/><text x="198" y="680">DTR6</text></g>
</g>

<g id="caption">
<text x="435" y="457" textLength="202" lengthAdjust="spacing">Figura 3. Una part</text>
<text x="435" y="485" textLength="207" lengthAdjust="spacing">del interactoma (map</text>
<text x="435" y="513" textLength="207" lengthAdjust="spacing">de una red de proteína</text>
<text x="435" y="541" textLength="205" lengthAdjust="spacing">que interactúan entr</text>
<text x="435" y="569" textLength="211" lengthAdjust="spacing">sí) de levadura (<tspan style="font-style:normal">S</tspan></text>
<text x="435" y="597" textLength="117" lengthAdjust="spacing"><tspan style="font-style:normal">cerevisiae</tspan>).</text>
<text x="590" y="597" letter-spacing="2">(AC</text>
<text x="435" y="625" textLength="207" lengthAdjust="spacing">Gavin et al. Nature</text>
<text x="435" y="653">415:141, 2002)</text>
</g>
</svg>
